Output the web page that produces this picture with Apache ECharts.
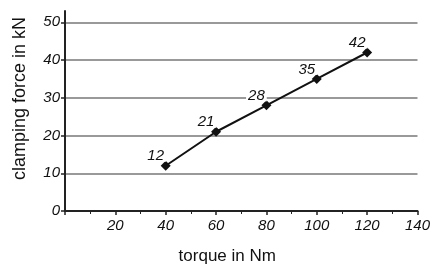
<!DOCTYPE html>
<html>
<head>
<meta charset="utf-8">
<script src="https://cdn.jsdelivr.net/npm/echarts@6/dist/echarts.min.js"></script>
<style>
  html, body { margin: 0; padding: 0; background: #fff; }
  #main { width: 433px; height: 270px; }
</style>
</head>
<body>
<div id="main"></div>
<script>
// torque (Nm) vs clamping force (kN)
var torque = [40, 60, 80, 100, 120];
var force = [12, 21, 28, 35, 42];
var yTicks = [0, 10, 20, 30, 40, 50];
var xLabels = [20, 40, 60, 80, 100, 120, 140];

var chart = echarts.init(document.getElementById('main'));

var pts = [];
for (var i = 0; i < torque.length; i++) {
    pts.push([torque[i], force[i]]);
}

var option = {
    backgroundColor: '#fff',
    animation: false,
    grid: { left: 65, right: 13, top: 11, bottom: 58 },
    xAxis: {
        type: 'value',
        min: 0,
        max: 140,
        interval: 20,
        name: 'torque in Nm',
        nameLocation: 'middle',
        nameGap: 37,
        nameTextStyle: { fontFamily: 'Liberation Sans', fontSize: 17, color: '#111', padding: [0, 28, 0, 0] },
        axisLine: { lineStyle: { color: '#222', width: 2 } },
        axisTick: { show: true, length: 4, lineStyle: { color: '#222', width: 1.5 } },
        minorTick: { show: true, splitNumber: 2, length: 3, lineStyle: { color: '#222', width: 1 } },
        axisLabel: {
            customValues: xLabels,
            margin: 7,
            fontFamily: 'Liberation Sans', fontStyle: 'italic', fontSize: 15, color: '#111'
        },
        splitLine: { show: false }
    },
    yAxis: {
        type: 'value',
        min: 0,
        max: 53,
        name: 'clamping force in kN',
        nameLocation: 'middle',
        nameGap: 36,
        nameTextStyle: { fontFamily: 'Liberation Sans', fontSize: 18, color: '#111', padding: [0, 0, 0, 25] },
        axisLine: { show: true, lineStyle: { color: '#222', width: 2 } },
        axisTick: { show: true, customValues: yTicks, length: 4, lineStyle: { color: '#222', width: 1.5 } },
        axisLabel: {
            customValues: yTicks,
            margin: 5,
            fontFamily: 'Liberation Sans', fontStyle: 'italic', fontSize: 15, color: '#111'
        },
        splitLine: { show: true, lineStyle: { color: '#999', width: 2 } }
    },
    series: [{
        type: 'line',
        data: pts,
        symbol: 'diamond',
        symbolSize: 10,
        itemStyle: { color: '#111' },
        lineStyle: { color: '#111', width: 2 },
        label: {
            show: true,
            position: 'top',
            distance: 2,
            offset: [-10, 3],
            formatter: function (p) { return p.value[1]; },
            fontFamily: 'Liberation Sans', fontStyle: 'italic', fontSize: 15, color: '#111',
            backgroundColor: '#fff',
            padding: [-2, 2]
        },
        z: 5
    }]
};

chart.setOption(option);
</script>
</body>
</html>
